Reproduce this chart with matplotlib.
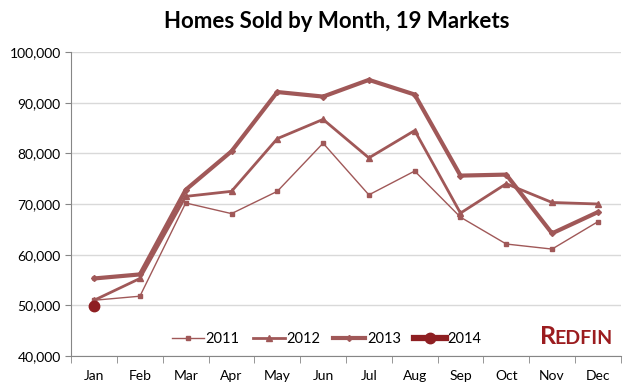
import matplotlib.pyplot as plt
import numpy as np

months = ['Jan', 'Feb', 'Mar', 'Apr', 'May', 'Jun', 'Jul', 'Aug', 'Sep', 'Oct', 'Nov', 'Dec']
s2011 = [51000, 51800, 70200, 68100, 72500, 82000, 71800, 76500, 67400, 62100, 61100, 66500]
s2012 = [51000, 55300, 71500, 72500, 82900, 86700, 79100, 84500, 68200, 74000, 70300, 70000]
s2013 = [55300, 56100, 72800, 80400, 92100, 91200, 94500, 91600, 75600, 75800, 64200, 68400]
s2014 = [49800]

plt.rcParams['font.family'] = ['Lato', 'DejaVu Sans']

fig = plt.figure(figsize=(6.36, 3.88), dpi=100)
ax = fig.add_axes([0.112, 0.0825, 0.864, 0.7835])

x = np.arange(len(months))
lc = '#a05858'
ax.plot(x, s2011, color=lc, lw=1, marker='s', ms=3.5, label='2011')
ax.plot(x, s2012, color=lc, lw=2, marker='^', ms=4.5, label='2012')
ax.plot(x, s2013, color=lc, lw=3, marker='D', ms=3, label='2013')
ax.plot(x[:len(s2014)], s2014, color='#8e1f22', lw=4.5, marker='o', ms=7.5, label='2014')

ax.set_ylim(40000, 100000)
ax.set_yticks(range(40000, 100001, 10000))
ax.set_yticklabels([f'{v:,}' for v in range(40000, 100001, 10000)], fontsize=10)
ax.set_xlim(-0.5, 11.5)
ax.set_xticks(x)
ax.set_xticklabels(months, fontsize=10)
ax.set_xticks(np.arange(-0.5, 12, 1), minor=True)
ax.tick_params(axis='x', which='major', length=0, pad=10)
ax.tick_params(axis='x', which='minor', length=5, color='#868686')
ax.tick_params(axis='y', length=4, color='#868686')
ax.grid(axis='y', color='#d9d9d9', lw=1)
ax.set_axisbelow(True)
for s in ['top', 'right']:
    ax.spines[s].set_visible(False)
for s in ['left', 'bottom']:
    ax.spines[s].set_color('#868686')

ax.legend(loc='lower center', bbox_to_anchor=(0.465, -0.01), ncol=4, frameon=False,
          fontsize=10.5, handlelength=2.2, columnspacing=0.9, handletextpad=0.1)

fig.text(0.53, 0.945, 'Homes Sold by Month, 19 Markets', ha='center', va='center',
         fontsize=16, fontweight='bold')
fig.text(0.849, 0.113, 'R', color='#9b1c1f', fontsize=18, fontweight='bold', ha='left', va='baseline')
fig.text(0.872, 0.113, 'EDFIN', color='#9b1c1f', fontsize=14, fontweight='bold', ha='left', va='baseline')

fig.savefig('out.png', dpi=100)
